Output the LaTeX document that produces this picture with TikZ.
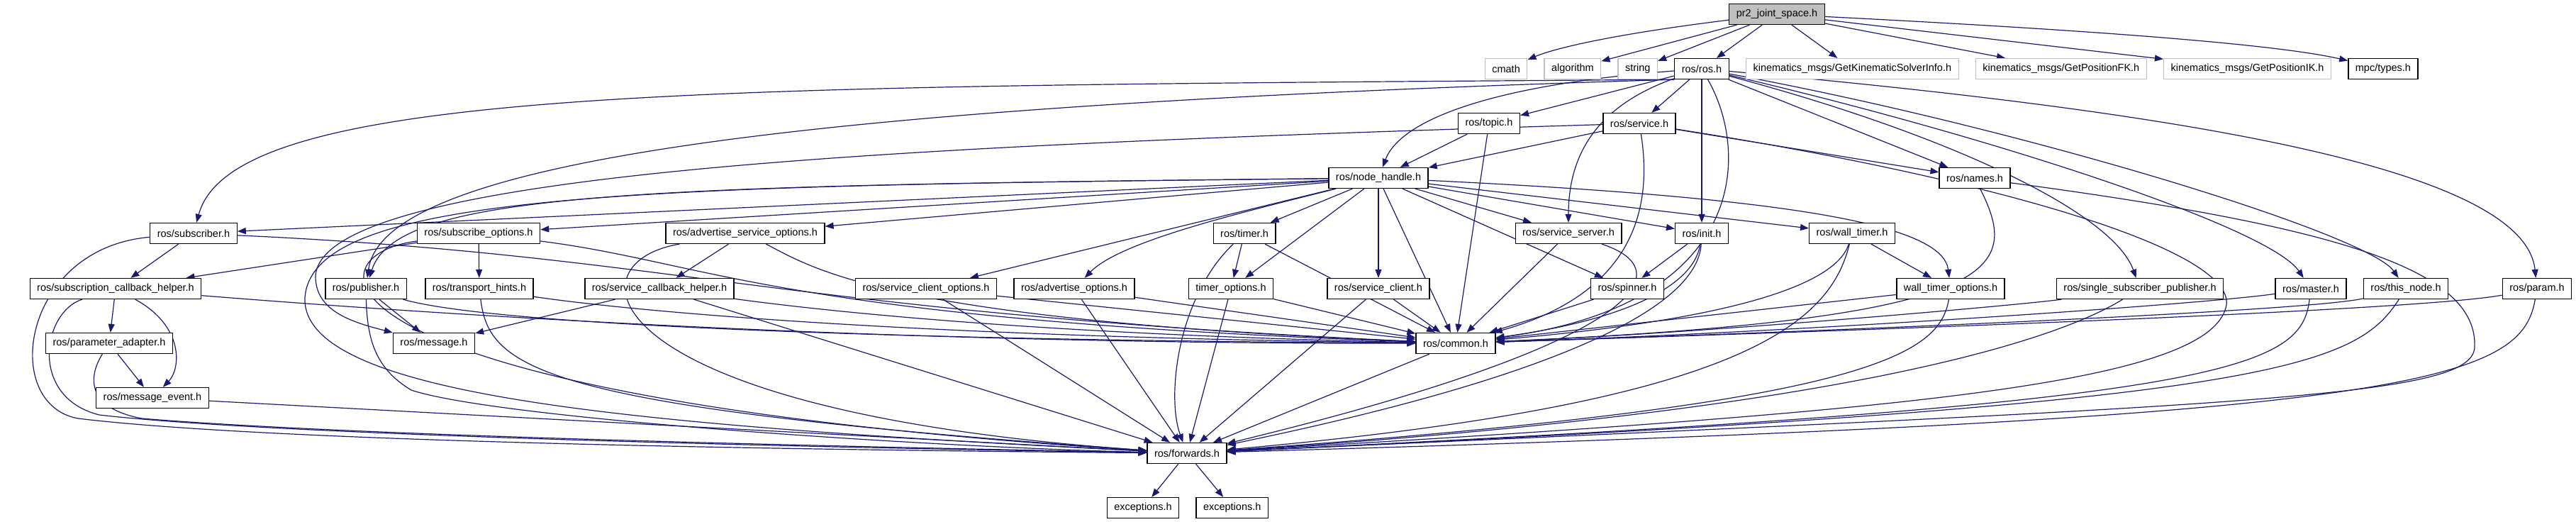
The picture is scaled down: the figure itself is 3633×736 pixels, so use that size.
\documentclass[tikz,border=0pt]{standalone}
\usepackage{fontspec}
\setmainfont{Liberation Sans}
\usetikzlibrary{positioning}
\usetikzlibrary{arrows.meta}
\definecolor{edgeblue}{RGB}{25,25,112}
\definecolor{sysgray}{RGB}{191,191,191}
\pgfdeclarelayer{background}
\pgfsetlayers{background,main}

\begin{document}
\begin{tikzpicture}[
        x=1pt, y=-1pt,
        font=\fontsize{14.5}{17}\selectfont,
        node distance=23pt,
        hfile/.style = {draw=black, line width=1.3pt, fill=white, minimum height=29pt, inner xsep=10pt, inner ysep=0pt},
        xfile/.style = {hfile, draw=sysgray},
        rfile/.style = {hfile, fill=sysgray},
        dep/.style = {draw=edgeblue, line width=1.2pt, -{Triangle[length=12pt,width=9pt]}}
    ]

        \useasboundingbox (0,0) rectangle (3633,736);

        % top rows
        \node[rfile] (pr2) at (2506,20) {pr2\_joint\_space.h};
        \node[hfile] (ros) at (2400,97) {ros/ros.h};
        \node[xfile] (string) [left=of ros] {string};
        \node[xfile] (algorithm) [left=of string] {algorithm};
        \node[xfile] (cmath) [left=of algorithm] {cmath};
        \node[xfile] (kinfo) [right=of ros] {kinematics\_msgs/GetKinematicSolverInfo.h};
        \node[xfile] (kfk) [right=of kinfo] {kinematics\_msgs/GetPositionFK.h};
        \node[xfile] (kik) [right=of kfk] {kinematics\_msgs/GetPositionIK.h};
        \node[hfile] (mpc) [right=of kik] {mpc/types.h};

        \node[hfile] (topic) at (2100,174) {ros/topic.h};
        \node[hfile] (service) at (2312,174) {ros/service.h};
        \node[hfile] (nh) at (1944,251) {ros/node\_handle.h};
        \node[hfile] (names) at (2785,251) {ros/names.h};

        % middle rows
        \node[hfile] (subscriber) at (273,329) {ros/subscriber.h};
        \node[hfile] (subopts) at (675,329) {ros/subscribe\_options.h};
        \node[hfile] (advsrvopts) at (1051,329) {ros/advertise\_service\_options.h};
        \node[hfile] (timer) at (1755,329) {ros/timer.h};
        \node[hfile] (srvserver) at (2212,329) {ros/service\_server.h};
        \node[hfile] (init) at (2400,329) {ros/init.h};
        \node[hfile] (walltimer) at (2612,329) {ros/wall\_timer.h};

        \node[hfile] (subcb) at (163,407) {ros/subscription\_callback\_helper.h};
        \node[hfile] (publisher) at (516,407) {ros/publisher.h};
        \node[hfile] (hints) at (676,407) {ros/transport\_hints.h};
        \node[hfile] (srvcb) at (930,407) {ros/service\_callback\_helper.h};
        \node[hfile] (srvclientopts) at (1306,407) {ros/service\_client\_options.h};
        \node[hfile] (advopts) at (1515,407) {ros/advertise\_options.h};
        \node[hfile] (timeropts) at (1736,407) {timer\_options.h};
        \node[hfile] (srvclient) at (1944,407) {ros/service\_client.h};
        \node[hfile] (spinner) at (2295,407) {ros/spinner.h};
        \node[hfile] (walltimeropts) at (2751,407) {wall\_timer\_options.h};
        \node[hfile] (ssp) at (3018,407) {ros/single\_subscriber\_publisher.h};
        \node[hfile] (master) at (3259,407) {ros/master.h};
        \node[hfile] (thisnode) at (3393,407) {ros/this\_node.h};
        \node[hfile] (param) at (3578,407) {ros/param.h};

        % bottom rows
        \node[hfile] (paramadapter) at (154,484) {ros/parameter\_adapter.h};
        \node[hfile] (message) at (612,484) {ros/message.h};
        \node[hfile] (common) at (2053,484) {ros/common.h};
        \node[hfile] (msgevent) at (215,561) {ros/message\_event.h};
        \node[hfile] (forwards) at (1674,639) {ros/forwards.h};
        \node[hfile] (exc1) at (1612,716) {exceptions.h};
        \node[hfile] (exc2) [right=of exc1] {exceptions.h};

        \begin{pgfonlayer}{background}
        % pr2_joint_space.h
        \draw[dep] (pr2) .. controls (2300,45) and (2200,65) .. (cmath);
        \draw[dep] (pr2) -- (algorithm);
        \draw[dep] (pr2) -- (string);
        \draw[dep] (pr2) -- (ros);
        \draw[dep] (pr2) -- (kinfo);
        \draw[dep] (pr2) -- (kfk);
        \draw[dep] (pr2) -- (kik);
        \draw[dep] (pr2) .. controls (2900,40) and (3200,60) .. (mpc);

        % ros/ros.h
        \draw[dep] (ros.south west) .. controls (1000,122) and (330,120) .. (subscriber);
        \draw[dep] (ros.south west) .. controls (1100,150) and (540,230) .. (publisher);
        \draw[dep] (ros) .. controls (2100,120) and (1975,170) .. (nh);
        \draw[dep] (ros) -- (topic);
        \draw[dep] (ros) -- (service);
        \draw[dep] (ros) .. controls (2250,150) and (2212,220) .. (srvserver);
        \draw[dep] (ros) -- (init);
        \draw[dep] (ros) .. controls (2470,220) and (2460,430) .. (common);
        \draw[dep] (ros) -- (names);
        \draw[dep] (ros) .. controls (2750,190) and (2980,300) .. (ssp);
        \draw[dep] (ros) .. controls (2800,190) and (3200,320) .. (master);
        \draw[dep] (ros) .. controls (2850,180) and (3340,330) .. (thisnode);
        \draw[dep] (ros) .. controls (3100,160) and (3560,240) .. (param);

        % ros/topic.h, ros/service.h
        \draw[dep] (topic) -- (nh);
        \draw[dep] (topic) -- (common);
        \draw[dep] (service) -- (nh);
        \draw[dep] (service) -- (names);
        \draw[dep] (service) .. controls (2335,320) and (2280,420) .. (common);
        \draw[dep] (service) .. controls (1300,205) and (450,240) .. (445,390) .. controls (445,440) and (500,455) .. (message);
        \draw[dep] (service) .. controls (2800,250) and (3150,350) .. (3140,430) .. controls (3120,540) and (2700,580) .. (forwards);

        % ros/node_handle.h
        \draw[dep] (nh) -- (subscriber);
        \draw[dep] (nh) -- (subopts);
        \draw[dep] (nh) -- (advsrvopts);
        \draw[dep] (nh) .. controls (900,262) and (560,270) .. (publisher);
        \draw[dep] (nh) .. controls (900,262) and (440,270) .. (430,420) .. controls (425,560) and (900,600) .. (forwards);
        \draw[dep] (nh) -- (srvclientopts);
        \draw[dep] (nh) .. controls (1750,300) and (1580,340) .. (advopts);
        \draw[dep] (nh) -- (timer);
        \draw[dep] (nh) -- (timeropts);
        \draw[dep] (nh) -- (srvclient);
        \draw[dep] (nh) -- (common);
        \draw[dep] (nh) -- (srvserver);
        \draw[dep] (nh) -- (spinner);
        \draw[dep] (nh) -- (init);
        \draw[dep] (nh) -- (walltimer);
        \draw[dep] (nh) .. controls (2550,280) and (2740,320) .. (walltimeropts);

        % ros/names.h
        \draw[dep] (names) .. controls (2850,380) and (2830,450) .. (common);
        \draw[dep] (names) .. controls (3300,320) and (3495,380) .. (3490,490) .. controls (3485,560) and (3200,570) .. (forwards);

        % left part
        \draw[dep] (subscriber) -- (subcb);
        \draw[dep] (subscriber) .. controls (950,360) and (1100,440) .. (common);
        \draw[dep] (subscriber) .. controls (30,350) and (0,570) .. (110,590) .. controls (400,625) and (1200,635) .. (forwards);
        \draw[dep] (subopts) -- (subcb);
        \draw[dep] (subopts) -- (hints);
        \draw[dep] (subopts) .. controls (1000,370) and (1100,450) .. (common);
        \draw[dep] (subopts) .. controls (430,360) and (420,560) .. (forwards);
        \draw[dep] (advsrvopts) -- (srvcb);
        \draw[dep] (advsrvopts) .. controls (1150,380) and (1250,450) .. (common);
        \draw[dep] (advsrvopts) .. controls (800,370) and (830,580) .. (forwards);
        \draw[dep] (subcb) -- (paramadapter);
        \draw[dep] (subcb) .. controls (260,460) and (255,520) .. (msgevent);
        \draw[dep] (subcb) .. controls (700,450) and (1300,485) .. (common);
        \draw[dep] (subcb) .. controls (60,440) and (40,560) .. (140,585) .. controls (400,615) and (1200,632) .. (forwards);
        \draw[dep] (publisher) -- (message);
        \draw[dep] (publisher) .. controls (700,460) and (1300,480) .. (common);
        \draw[dep] (publisher) .. controls (518,480) and (530,520) .. (580,550) .. controls (700,590) and (1300,630) .. (forwards);
        \draw[dep] (hints) .. controls (900,440) and (1300,475) .. (common);
        \draw[dep] (hints) .. controls (690,520) and (760,575) .. (forwards);
        \draw[dep] (srvcb) -- (message);
        \draw[dep] (srvcb) .. controls (1100,430) and (1400,470) .. (common);
        \draw[dep] (srvcb) -- (forwards);
        \draw[dep] (paramadapter) -- (msgevent);
        \draw[dep] (paramadapter) .. controls (125,530) and (120,575) .. (200,590) .. controls (500,615) and (1200,630) .. (forwards);
        \draw[dep] (msgevent) -- (forwards);

        % centre part
        \draw[dep] (srvclientopts) -- (common);
        \draw[dep] (srvclientopts) -- (forwards);
        \draw[dep] (advopts) -- (common);
        \draw[dep] (advopts) -- (forwards);
        \draw[dep] (timer) -- (timeropts);
        \draw[dep] (timer) -- (common);
        \draw[dep] (timer) .. controls (1660,420) and (1645,560) .. (forwards);
        \draw[dep] (timeropts) -- (common);
        \draw[dep] (timeropts) -- (forwards);
        \draw[dep] (srvclient) -- (common);
        \draw[dep] (srvclient) -- (forwards);
        \draw[dep] (common) -- (forwards);
        \draw[dep] (srvserver) -- (common);
        \draw[dep] (srvserver) .. controls (2370,380) and (2330,480) .. (forwards);
        \draw[dep] (init) -- (spinner);
        \draw[dep] (init) .. controls (2390,400) and (2300,450) .. (common);
        \draw[dep] (init) .. controls (2395,420) and (2250,520) .. (forwards);
        \draw[dep] (spinner) -- (common);

        % right part
        \draw[dep] (walltimer) -- (walltimeropts);
        \draw[dep] (walltimer) .. controls (2590,400) and (2450,450) .. (common);
        \draw[dep] (walltimer) .. controls (2580,460) and (2450,570) .. (forwards);
        \draw[dep] (walltimeropts) -- (common);
        \draw[dep] (walltimeropts) .. controls (2735,500) and (2640,570) .. (forwards);
        \draw[dep] (ssp) .. controls (2850,430) and (2400,470) .. (common);
        \draw[dep] (ssp) .. controls (2900,480) and (2600,580) .. (forwards);
        \draw[dep] (master) .. controls (3100,430) and (2500,470) .. (common);
        \draw[dep] (master) .. controls (3245,520) and (3150,570) .. (forwards);
        \draw[dep] (thisnode) .. controls (3250,440) and (2500,470) .. (common);
        \draw[dep] (thisnode) .. controls (3320,520) and (3200,570) .. (forwards);
        \draw[dep] (param) .. controls (3400,440) and (2500,470) .. (common);
        \draw[dep] (param) .. controls (3555,540) and (3400,590) .. (forwards);

        % ros/forwards.h
        \draw[dep] (forwards) -- (exc1);
        \draw[dep] (forwards) -- (exc2);
        \end{pgfonlayer}

    \end{tikzpicture}
\end{document}
